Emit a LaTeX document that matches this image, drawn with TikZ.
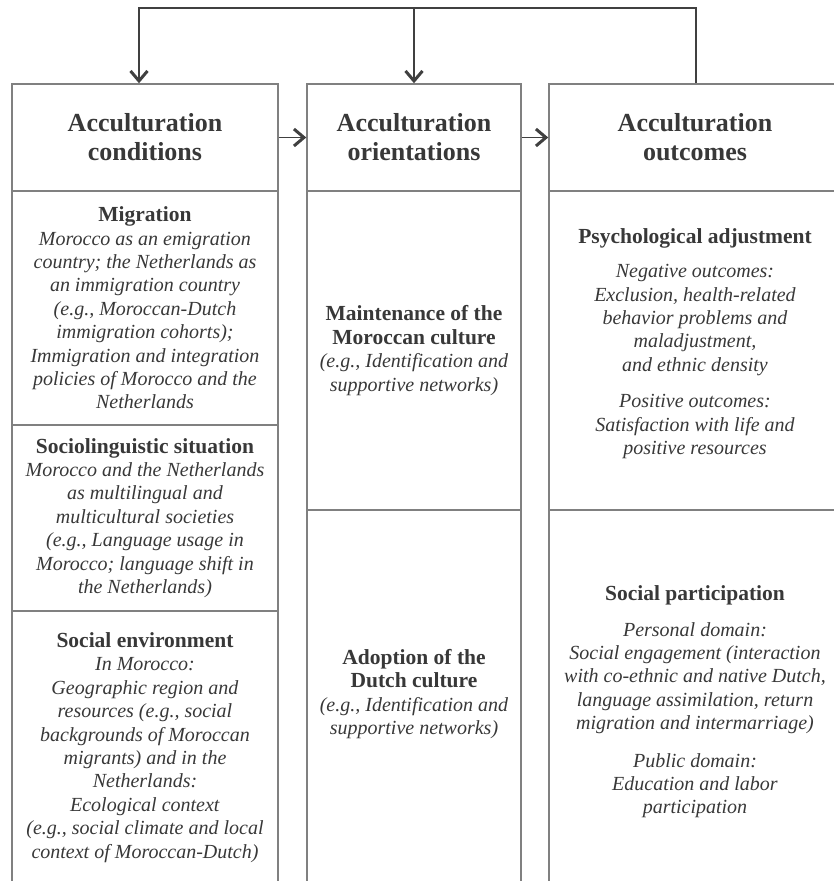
\documentclass[tikz,border=0pt]{standalone}
\usepackage{fontspec}
\setmainfont{Liberation Serif}
\usetikzlibrary{arrows.meta}

\definecolor{boxline}{HTML}{808080}
\definecolor{connline}{HTML}{404040}
\definecolor{ink}{HTML}{383838}

% bold section title, a little larger than the body text
\newcommand\secttl[1]{{\fontsize{21.5}{23.4}\selectfont\bfseries #1}}

\tikzset{
  x=1pt, y=-1pt,
  sectext/.style={inner sep=0pt, align=center, text=ink,
    font={\fontsize{20}{23.4}\selectfont}},
  section/.style={sectext, draw=boxline, line width=1.5pt, rectangle},
  headbox/.style={section, font={\fontsize{26}{29}\selectfont\bfseries}},
  conn/.style={draw=connline, line width=1.4pt},
  chev/.style={-{Straight Barb[length=10pt,width=17pt,line width=3pt 0]}},
}

\begin{document}
\begin{tikzpicture}
\useasboundingbox (0,0) rectangle (834,881);
\clip (0,0) rectangle (834,881);

% column headers
\node[headbox, minimum width=266pt, minimum height=107pt] (hCond) at (145,137.5)
  {Acculturation\\conditions};
\node[headbox, minimum width=214pt, minimum height=107pt] (hOri) at (414,137.5)
  {Acculturation\\orientations};
\node[headbox, minimum width=292pt, minimum height=107pt] (hOut) at (695,137.5)
  {Acculturation\\outcomes};

% conditions column
\node[section, minimum width=266pt, minimum height=234pt] (mig) at (145,308)
  {\secttl{Migration}\\
   \textit{Morocco as an emigration}\\
   \textit{country; the Netherlands as}\\
   \textit{an immigration country}\\
   \textit{(e.g., Moroccan-Dutch}\\
   \textit{immigration cohorts);}\\
   \textit{Immigration and integration}\\
   \textit{policies of Morocco and the}\\
   \textit{Netherlands}};
\node[section, minimum width=266pt, minimum height=186pt] (ling) at (145,518)
  {\secttl{Sociolinguistic situation}\\
   \textit{Morocco and the Netherlands}\\
   \textit{as multilingual and}\\
   \textit{multicultural societies}\\
   \textit{(e.g., Language usage in}\\
   \textit{Morocco; language shift in}\\
   \textit{the Netherlands)}};
\node[section, minimum width=266pt, minimum height=273pt] (env) at (145,747.5)
  {\secttl{Social environment}\\
   \textit{In Morocco:}\\
   \textit{Geographic region and}\\
   \textit{resources (e.g., social}\\
   \textit{backgrounds of Moroccan}\\
   \textit{migrants) and in the}\\
   \textit{Netherlands:}\\
   \textit{Ecological context}\\
   \textit{(e.g., social climate and local}\\
   \textit{context of Moroccan-Dutch)}};

% orientations column
\node[section, minimum width=214pt, minimum height=319pt] (maint) at (414,350.5) {};
\node[sectext] (maintT) at (maint.center)
  {\secttl{Maintenance of the}\\
   \secttl{Moroccan culture}\\
   \textit{(e.g., Identification and}\\
   \textit{supportive networks)}};
\node[section, minimum width=214pt, minimum height=374pt] (adopt) at (414,697) {};
\node[sectext] (adoptT) at ([yshift=3pt]adopt.center)
  {\secttl{Adoption of the}\\
   \secttl{Dutch culture}\\
   \textit{(e.g., Identification and}\\
   \textit{supportive networks)}};

% outcomes column
\node[section, minimum width=292pt, minimum height=319pt] (psy) at (695,350.5) {};
\node[sectext] (psyT) at ([yshift=7pt]psy.center)
  {\secttl{Psychological adjustment}\\[11pt]
   \textit{Negative outcomes:}\\
   \textit{Exclusion, health-related}\\
   \textit{behavior problems and}\\
   \textit{maladjustment,}\\
   \textit{and ethnic density}\\[13pt]
   \textit{Positive outcomes:}\\
   \textit{Satisfaction with life and}\\
   \textit{positive resources}};
\node[section, minimum width=292pt, minimum height=374pt] (part) at (695,697) {};
\node[sectext] (partT) at ([yshift=-5pt]part.center)
  {\secttl{Social participation}\\[12pt]
   \textit{Personal domain:}\\
   \textit{Social engagement (interaction}\\
   \textit{with co-ethnic and native Dutch,}\\
   \textit{language assimilation, return}\\
   \textit{migration and intermarriage)}\\[14pt]
   \textit{Public domain:}\\
   \textit{Education and labor}\\
   \textit{participation}};

% feedback loop over the top
\coordinate (tr) at (696,8);
\coordinate (tl) at (139,8);
\draw[conn, chev] (hOut.north -| tr) -- (tr) -- (tl) -- (hCond.north -| tl);
\draw[conn, chev] (tr -| hOri.north) -- (hOri.north);

% left-to-right flow
\draw[conn, chev] (hCond.east) -- (hOri.west);
\draw[conn, chev] (hOri.east) -- (hOut.west);
\end{tikzpicture}
\end{document}
